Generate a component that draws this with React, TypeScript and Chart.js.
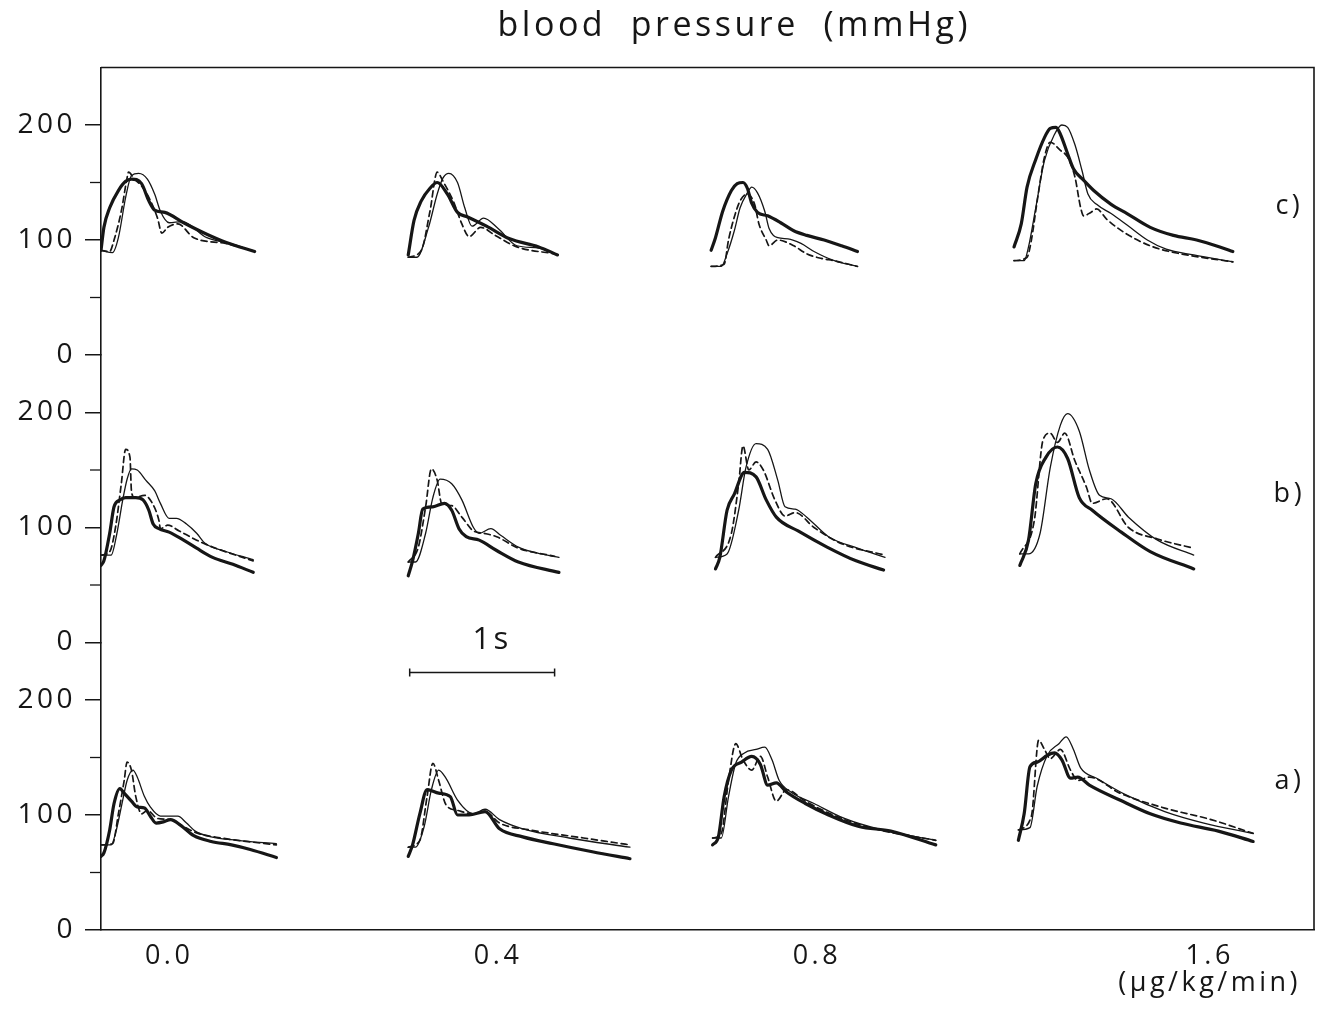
import { useEffect, useRef } from 'react';
import { Chart, registerables } from 'chart.js';

Chart.register(...registerables);

const FONT = '"Open Sans", "Liberation Sans", Arial, sans-serif';
const FONT_WEIGHT = 400;
const INK = '#161616';

// ---------- texts ----------
const TITLE = 'blood  pressure  (mmHg)';
const PANEL_LABELS = ['c)', 'b)', 'a)'];
const DOSE_LABELS: (string | string[])[] = ['0.0', '0.4', '0.8', ['1.6', '(μg/kg/min)']];
const SCALE_BAR_LABEL = '1s';

// ---------- axes ----------
const DOSE_LABEL_TIMES = [0.47, 2.74, 4.94, 7.65]; // s, where each dose label sits
const Y_TICKS = [0, 50, 100, 150, 200];
const Y_LABELLED = [0, 100, 200];
const PANEL_MAX = 250; // mmHg per panel
const TIME_MAX = 8.37; // s across the frame
const SCALE_BAR = [2.13, 3.13]; // 1 s calibration bar
const SCALE_BAR_LEVEL = 224; // mmHg in panel a
const PANEL_LABEL_TIME = 8.2;
const PANEL_LABEL_LEVEL = 129;
const TITLE_TIME = 4.37;

// ---------- beat onsets (s) per panel ----------
const ONSETS_C = [0, 2.12, 4.21, 6.3];
const ONSETS_B = [0, 2.12, 4.24, 6.34];
const ONSETS_A = [0, 2.12, 4.22, 6.33];

type Pt = [number, number]; // [time since onset (s), pressure (mmHg)]

// ---------- panel c ----------
const C1_THICK: Pt[] = [[0,91],[0.02,111],[0.06,128],[0.12,143],[0.17,151],[0.21,153],[0.28,149],[0.33,134],[0.37,126],[0.44,124],[0.57,115],[0.73,105],[0.86,98],[1.06,90]];
const C1_THIN: Pt[] = [[0,91],[0.08,89],[0.12,102],[0.17,137],[0.21,156],[0.26,158],[0.32,153],[0.37,140],[0.41,125],[0.47,115],[0.56,116],[0.73,102],[0.89,97],[1.06,90]];
const C1_DASH: Pt[] = [[0,91],[0.06,90],[0.09,100],[0.14,125],[0.18,154],[0.19,159],[0.23,153],[0.28,147],[0.33,137],[0.39,119],[0.42,106],[0.46,111],[0.53,114],[0.64,102],[0.86,97],[1.04,91]];

const C2_THICK: Pt[] = [[0,87],[0.04,117],[0.09,134],[0.15,145],[0.2,150],[0.27,140],[0.34,124],[0.41,120],[0.54,112],[0.7,101],[0.9,94],[1.03,87]];
const C2_THIN: Pt[] = [[0,85],[0.06,85],[0.14,111],[0.2,140],[0.24,154],[0.28,158],[0.34,150],[0.39,128],[0.44,112],[0.52,119],[0.62,110],[0.75,95],[0.9,93],[1.03,87]];
const C2_DASH: Pt[] = [[0,85],[0.09,91],[0.15,125],[0.2,159],[0.24,151],[0.31,134],[0.37,114],[0.42,103],[0.5,111],[0.6,104],[0.75,94],[1.01,88]];

const C3_THICK: Pt[] = [[0,91],[0.03,102],[0.08,125],[0.14,143],[0.18,149],[0.22,150],[0.25,145],[0.28,132],[0.32,124],[0.39,121],[0.48,115],[0.57,108],[0.66,104],[0.78,100],[0.9,95],[1.01,90]];
const C3_THIN: Pt[] = [[0,77],[0.07,77],[0.11,88],[0.16,108],[0.2,128],[0.25,141],[0.28,146],[0.32,141],[0.37,125],[0.4,110],[0.46,102],[0.53,101],[0.62,97],[0.71,90],[0.85,82],[1.01,77]];
const C3_DASH: Pt[] = [[0,77],[0.09,79],[0.12,100],[0.16,120],[0.2,134],[0.25,140],[0.3,131],[0.33,114],[0.38,100],[0.4,95],[0.46,100],[0.57,95],[0.66,88],[0.76,84],[0.85,82],[1.01,77]];

const C4_THICK: Pt[] = [[0,94],[0.05,114],[0.09,146],[0.15,170],[0.21,189],[0.25,197],[0.29,198],[0.32,192],[0.37,175],[0.41,162],[0.48,152],[0.55,143],[0.67,131],[0.78,123],[0.94,111],[1.1,104],[1.26,100],[1.42,94],[1.51,90]];
const C4_THIN: Pt[] = [[0,82],[0.07,82],[0.1,94],[0.15,128],[0.21,169],[0.28,192],[0.33,200],[0.37,198],[0.42,183],[0.47,160],[0.51,140],[0.57,131],[0.67,123],[0.78,113],[0.92,100],[1.05,92],[1.24,87],[1.51,81]];
const C4_DASH: Pt[] = [[0,82],[0.09,85],[0.12,100],[0.16,134],[0.21,172],[0.25,185],[0.32,178],[0.37,172],[0.42,155],[0.46,128],[0.48,121],[0.53,124],[0.57,127],[0.64,118],[0.78,105],[0.96,94],[1.15,88],[1.51,81]];

// ---------- panel b ----------
const B1_THICK: Pt[] = [[0,67],[0.02,71],[0.06,95],[0.09,118],[0.13,124],[0.17,126],[0.24,126],[0.29,124],[0.33,115],[0.36,103],[0.4,99],[0.47,96],[0.57,89],[0.66,82],[0.77,74],[0.91,68],[1.05,61]];
const B1_THIN: Pt[] = [[0,76],[0.07,76],[0.11,95],[0.15,124],[0.18,142],[0.21,151],[0.25,150],[0.31,141],[0.37,132],[0.41,121],[0.47,108],[0.52,108],[0.59,103],[0.66,95],[0.72,86],[0.84,80],[1.05,72]];
const B1_DASH: Pt[] = [[0,76],[0.06,79],[0.1,100],[0.14,138],[0.17,168],[0.2,161],[0.21,132],[0.23,126],[0.3,128],[0.35,122],[0.4,106],[0.41,99],[0.46,102],[0.54,97],[0.66,89],[0.77,83],[1.05,71]];

const B2_THICK: Pt[] = [[0,58],[0.03,71],[0.07,95],[0.1,116],[0.17,118],[0.25,121],[0.3,115],[0.35,99],[0.4,92],[0.49,89],[0.61,80],[0.76,70],[1.04,61]];
const B2_THIN: Pt[] = [[0,70],[0.05,70],[0.12,95],[0.17,126],[0.22,142],[0.3,138],[0.37,124],[0.45,100],[0.49,95],[0.57,99],[0.64,93],[0.76,83],[0.92,77],[1.04,74]];
const B2_DASH: Pt[] = [[0,70],[0.07,83],[0.12,118],[0.16,151],[0.2,141],[0.23,121],[0.3,119],[0.37,109],[0.45,97],[0.52,95],[0.61,92],[0.76,82],[1.01,75]];

const B3_THICK: Pt[] = [[0,64],[0.03,74],[0.08,115],[0.13,129],[0.2,148],[0.28,144],[0.35,124],[0.42,109],[0.57,97],[0.77,83],[0.97,71],[1.16,63]];
const B3_THIN: Pt[] = [[0,74],[0.08,77],[0.16,115],[0.21,152],[0.28,173],[0.36,168],[0.43,141],[0.48,118],[0.55,116],[0.63,109],[0.78,92],[0.98,82],[1.17,74]];
const B3_DASH: Pt[] = [[0,74],[0.11,95],[0.16,138],[0.19,171],[0.23,150],[0.28,157],[0.33,150],[0.41,124],[0.48,110],[0.55,113],[0.68,100],[0.87,86],[1.17,76]];

const B4_THICK: Pt[] = [[0,67],[0.06,89],[0.11,138],[0.18,161],[0.26,170],[0.33,160],[0.41,126],[0.5,115],[0.7,96],[0.9,79],[1.2,64]];
const B4_THIN: Pt[] = [[0,77],[0.06,77],[0.14,95],[0.21,152],[0.28,189],[0.33,199],[0.41,184],[0.48,150],[0.55,128],[0.63,125],[0.75,109],[0.95,89],[1.2,76]];
const B4_DASH: Pt[] = [[0,77],[0.1,106],[0.16,176],[0.21,182],[0.26,174],[0.31,182],[0.38,158],[0.46,135],[0.5,121],[0.6,125],[0.75,100],[0.95,90],[1.2,82]];

// ---------- panel a ----------
const A1_THICK: Pt[] = [[0,64],[0.02,67],[0.06,87],[0.09,110],[0.13,123],[0.16,119],[0.21,112],[0.25,107],[0.3,106],[0.34,99],[0.38,93],[0.43,94],[0.48,96],[0.55,91],[0.64,82],[0.76,77],[0.9,74],[1.03,70],[1.21,63]];
const A1_THIN: Pt[] = [[0,74],[0.07,74],[0.1,84],[0.15,113],[0.18,130],[0.22,139],[0.25,133],[0.3,116],[0.34,107],[0.41,99],[0.48,99],[0.53,99],[0.59,93],[0.65,86],[0.76,81],[0.94,78],[1.21,75]];
const A1_DASH: Pt[] = [[0,74],[0.08,75],[0.12,101],[0.16,130],[0.18,146],[0.21,139],[0.24,116],[0.28,101],[0.32,104],[0.39,97],[0.48,96],[0.57,90],[0.67,84],[0.83,80],[1.21,74]];

const A2_THICK: Pt[] = [[0,64],[0.03,74],[0.08,101],[0.13,122],[0.21,119],[0.29,116],[0.34,100],[0.42,100],[0.53,103],[0.63,88],[0.79,81],[1.0,75],[1.27,68],[1.53,62]];
const A2_THIN: Pt[] = [[0,72],[0.05,72],[0.11,90],[0.16,122],[0.21,139],[0.26,132],[0.34,113],[0.45,101],[0.53,105],[0.63,96],[0.79,88],[1.11,80],[1.53,72]];
const A2_DASH: Pt[] = [[0,72],[0.08,78],[0.13,116],[0.17,145],[0.21,130],[0.26,109],[0.34,104],[0.45,101],[0.53,103],[0.63,93],[0.84,87],[1.21,80],[1.53,74]];

const A3_THICK: Pt[] = [[0,74],[0.04,81],[0.08,116],[0.13,139],[0.2,146],[0.27,151],[0.33,144],[0.38,126],[0.44,128],[0.51,120],[0.64,110],[0.8,100],[1.01,90],[1.23,86],[1.54,74]];
const A3_THIN: Pt[] = [[0,80],[0.06,80],[0.11,116],[0.16,145],[0.22,154],[0.3,157],[0.36,159],[0.41,148],[0.46,130],[0.54,120],[0.7,110],[0.91,97],[1.17,87],[1.54,78]];
const A3_DASH: Pt[] = [[0,80],[0.06,84],[0.11,130],[0.16,162],[0.21,148],[0.27,139],[0.33,151],[0.38,133],[0.44,112],[0.51,122],[0.64,112],[0.85,99],[1.12,88],[1.54,78]];

const A4_THICK: Pt[] = [[0,78],[0.04,101],[0.08,142],[0.13,146],[0.2,152],[0.25,154],[0.3,148],[0.36,132],[0.41,133],[0.49,126],[0.7,113],[0.91,101],[1.12,93],[1.38,86],[1.62,77]];
const A4_THIN: Pt[] = [[0,87],[0.08,89],[0.13,125],[0.2,152],[0.28,162],[0.33,168],[0.38,157],[0.43,141],[0.54,132],[0.75,117],[1.01,103],[1.28,93],[1.62,84]];
const A4_DASH: Pt[] = [[0,87],[0.09,99],[0.14,165],[0.18,157],[0.22,149],[0.29,157],[0.36,139],[0.41,130],[0.49,133],[0.7,119],[1.01,106],[1.33,96],[1.62,84]];

const PANEL_C = [[C1_THICK, C1_THIN, C1_DASH], [C2_THICK, C2_THIN, C2_DASH], [C3_THICK, C3_THIN, C3_DASH], [C4_THICK, C4_THIN, C4_DASH]];
const PANEL_B = [[B1_THICK, B1_THIN, B1_DASH], [B2_THICK, B2_THIN, B2_DASH], [B3_THICK, B3_THIN, B3_DASH], [B4_THICK, B4_THIN, B4_DASH]];
const PANEL_A = [[A1_THICK, A1_THIN, A1_DASH], [A2_THICK, A2_THIN, A2_DASH], [A3_THICK, A3_THIN, A3_DASH], [A4_THICK, A4_THIN, A4_DASH]];

const STYLES = [
  { borderWidth: 3.2, borderDash: [] as number[] },
  { borderWidth: 1.3, borderDash: [] as number[] },
  { borderWidth: 1.7, borderDash: [6, 4] },
];

function panelDatasets(groups: Pt[][][], onsets: number[], axis: string) {
  const out: any[] = [];
  groups.forEach((curves, g) => {
    curves.forEach((pts, k) => {
      out.push({
        type: 'line',
        yAxisID: axis,
        data: pts.map(([t, p]) => ({ x: onsets[g] + t, y: p })),
        borderColor: INK,
        borderWidth: STYLES[k].borderWidth,
        borderDash: STYLES[k].borderDash,
        pointRadius: 0,
        fill: false,
        cubicInterpolationMode: 'monotone',
        borderCapStyle: 'round',
        borderJoinStyle: 'round',
      });
    });
  });
  return out;
}

function yAxis(weight: number) {
  return {
    type: 'linear',
    position: 'left',
    stack: 'bp',
    stackWeight: 1,
    weight,
    min: 0,
    max: PANEL_MAX,
    afterBuildTicks: (s: any) => {
      s.ticks = Y_TICKS.map((v) => ({ value: v }));
    },
    afterFit: (s: any) => {
      s.width = 93;
    },
    ticks: {
      callback: (v: any) => (Y_LABELLED.includes(Number(v)) ? String(v) : ''),
      font: { size: 28, family: FONT, weight: FONT_WEIGHT },
      color: INK,
      padding: 9,
    },
    grid: {
      drawOnChartArea: false,
      drawTicks: true,
      tickLength: 16,
      lineWidth: 1.5,
      color: (ctx: any) => (ctx.tick && Y_LABELLED.includes(ctx.tick.value) ? INK : 'rgba(0,0,0,0)'),
    },
    border: { display: true, color: INK, width: 1.6 },
  };
}

const decor = {
  id: 'decor',
  beforeDraw(chart: any) {
    chart.ctx.letterSpacing = '3.5px';
  },
  afterDraw(chart: any) {
    const ctx = chart.ctx;
    const { left, right, top, bottom } = chart.chartArea;
    const xs = chart.scales.x;
    ctx.save();
    ctx.strokeStyle = INK;
    ctx.lineWidth = 1.6;
    ctx.beginPath();
    ctx.moveTo(left, top);
    ctx.lineTo(right, top);
    ctx.lineTo(right, bottom);
    ctx.stroke();

    // minor ticks
    ctx.lineWidth = 1.3;
    ['yC', 'yB', 'yA'].forEach((id) => {
      const s = chart.scales[id];
      Y_TICKS.filter((v) => !Y_LABELLED.includes(v)).forEach((v) => {
        const y = s.getPixelForValue(v);
        ctx.beginPath();
        ctx.moveTo(s.right - 11, y);
        ctx.lineTo(s.right, y);
        ctx.stroke();
      });
    });

    ctx.fillStyle = INK;
    ctx.textAlign = 'center';
    ctx.textBaseline = 'middle';

    // title
    ctx.font = `${FONT_WEIGHT} 34px ${FONT}`;
    ctx.fillText(TITLE, xs.getPixelForValue(TITLE_TIME), top - 41);

    // panel labels
    ctx.font = `${FONT_WEIGHT} 27px ${FONT}`;
    ['yC', 'yB', 'yA'].forEach((id, i) => {
      const s = chart.scales[id];
      ctx.fillText(PANEL_LABELS[i], xs.getPixelForValue(PANEL_LABEL_TIME), s.getPixelForValue(PANEL_LABEL_LEVEL));
    });

    // scale bar label
    ctx.font = `${FONT_WEIGHT} 31px ${FONT}`;
    const barY = chart.scales.yA.getPixelForValue(SCALE_BAR_LEVEL);
    ctx.fillText(SCALE_BAR_LABEL, xs.getPixelForValue((SCALE_BAR[0] + SCALE_BAR[1]) / 2) + 10, barY - 32);
    ctx.restore();
    ctx.letterSpacing = '0px';
  },
};

export default function App() {
  const ref = useRef<HTMLCanvasElement>(null);
  useEffect(() => {
    const datasets = [
      ...panelDatasets(PANEL_C, ONSETS_C, 'yC'),
      ...panelDatasets(PANEL_B, ONSETS_B, 'yB'),
      ...panelDatasets(PANEL_A, ONSETS_A, 'yA'),
      {
        type: 'line',
        yAxisID: 'yA',
        data: SCALE_BAR.map((t) => ({ x: t, y: SCALE_BAR_LEVEL })),
        borderColor: INK,
        borderWidth: 1.5,
        pointStyle: 'line',
        pointRotation: 90,
        pointRadius: 4,
        pointBorderWidth: 1.5,
        pointBorderColor: INK,
      },
    ];
    const chart = new Chart(ref.current as HTMLCanvasElement, {
      type: 'line',
      data: { datasets } as any,
      plugins: [decor],
      options: {
        animation: false,
        responsive: true,
        maintainAspectRatio: false,
        layout: { padding: { top: 59.5, right: 11, left: 0, bottom: 0 } },
        plugins: { legend: { display: false }, tooltip: { enabled: false }, title: { display: false } },
        scales: {
          x: {
            type: 'linear',
            min: 0,
            max: TIME_MAX,
            afterBuildTicks: (s: any) => {
              s.ticks = DOSE_LABEL_TIMES.map((v) => ({ value: v }));
            },
            afterFit: (s: any) => {
              s.height = 81;
            },
            grid: { display: false, drawTicks: false },
            border: { display: true, color: INK, width: 1.6 },
            ticks: {
              autoSkip: false,
              maxRotation: 0,
              minRotation: 0,
              padding: 13,
              color: INK,
              font: { size: 27, family: FONT, weight: FONT_WEIGHT, lineHeight: 1.0 },
              callback: (_v: any, i: number) => DOSE_LABELS[i],
            },
          },
          yC: yAxis(3),
          yB: yAxis(2),
          yA: yAxis(1),
        } as any,
      },
    });
    return () => chart.destroy();
  }, []);
  return (
    <div style={{ position: 'relative', width: 1317, height: 1003 }}>
      <canvas ref={ref} />
    </div>
  );
}
